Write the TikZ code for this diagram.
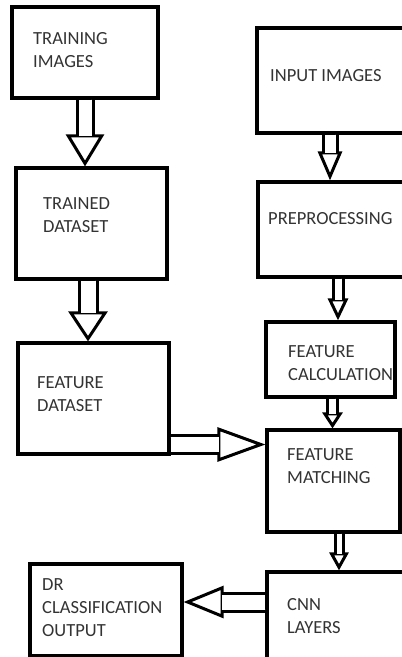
\documentclass[tikz,border=0pt]{standalone}
\usepackage{fontspec}
\setmainfont{Carlito}
\usetikzlibrary{arrows.meta}

\begin{document}
\begin{tikzpicture}
	[x=1pt,y=-1pt,
	box/.style={rectangle, draw=black, line width=3.2pt, inner sep=0pt},
	txt/.style={anchor=north west, inner sep=0pt, align=left, text=black!80,
		font=\fontsize{18.5}{23}\selectfont},
	barrow/.style n args={3}{draw=black, line width=3pt, double=white,
		double distance=#1,
		-{Triangle[fill=white, width=#2, length=#3, line width=3pt 0 0]}},
	gap/.style={draw=white, line width=#1}]
	\useasboundingbox (0,0) rectangle (402,657);
	\clip (0,0) rectangle (402,657);

	%% left column
	\node[box, minimum width=146pt, minimum height=91pt]  (ti) at (85,52.5)  {};
	\node[box, minimum width=151pt, minimum height=111pt] (td) at (91.5,223.5) {};
	\node[box, minimum width=151pt, minimum height=111pt] (fd) at (93.5,398.5) {};
	\node[box, minimum width=152pt, minimum height=92pt]  (dr) at (106,610)  {};

	%% right column
	\node[box, minimum width=158pt, minimum height=105pt] (ii)  at (336,80.5)  {};
	\node[box, minimum width=157pt, minimum height=95pt]  (pp)  at (336.5,229.5) {};
	\node[box, minimum width=129pt, minimum height=75pt]  (fc)  at (330.5,359.5) {};
	\node[box, minimum width=133pt, minimum height=102pt] (fm)  at (333.5,481) {};
	\node[box, minimum width=148pt, minimum height=98pt]  (cnn) at (341,621)   {};

	%% labels
	\node[txt] (ti-l)  at (33,32)   {TRAINING\\IMAGES};
	\node[txt] (td-l)  at (43,197)  {TRAINED\\DATASET};
	\node[txt] (fd-l)  at (37,376)  {FEATURE\\DATASET};
	\node[txt] (dr-l)  at (42,578)  {DR\\CLASSIFICATION\\OUTPUT};
	\node[txt] (ii-l)  at (270,69)  {INPUT IMAGES};
	\node[txt] (pp-l)  at (268,212) {PREPROCESSING};
	\node[txt] (fc-l)  at (288,345) {FEATURE\\CALCULATION};
	\node[txt] (fm-l)  at (287,448) {FEATURE\\MATCHING};
	\node[txt] (cnn-l) at (287,598) {CNN\\LAYERS};

	%% downward arrows
	\foreach \from/\to/\x/\sw/\hw/\hl in {ti/td/85/13/38/32,
	td/fd/88/15/39/30,
	ii/pp/330/11/24/29,
	pp/fc/338/7/20/22,
	fc/fm/332.5/6.5/20/16,
	fm/cnn/339/5/19/18}
	{
	\draw[barrow={\sw pt}{\hw pt}{\hl pt}] (\x,0 |- \from.south) -- (\x,0 |- \to.north);
	\draw[gap=\sw pt, shorten >={(\hl-2)*1pt}] (\x,0 |- \from.south) -- (\x,0 |- \to.north);
	}

	%% sideways arrows
	\draw[barrow={15pt}{34pt}{48pt}] (fd.east |- 0,444.5) -- (fm.west |- 0,444.5);
	\draw[gap=15pt, shorten >=46pt] (fd.east |- 0,444.5) -- (fm.west |- 0,444.5);
	\draw[barrow={15pt}{32pt}{40pt}] (cnn.west |- 0,602) -- (dr.east |- 0,602);
	\draw[gap=15pt, shorten >=38pt] (cnn.west |- 0,602) -- (dr.east |- 0,602);
\end{tikzpicture}
\end{document}
